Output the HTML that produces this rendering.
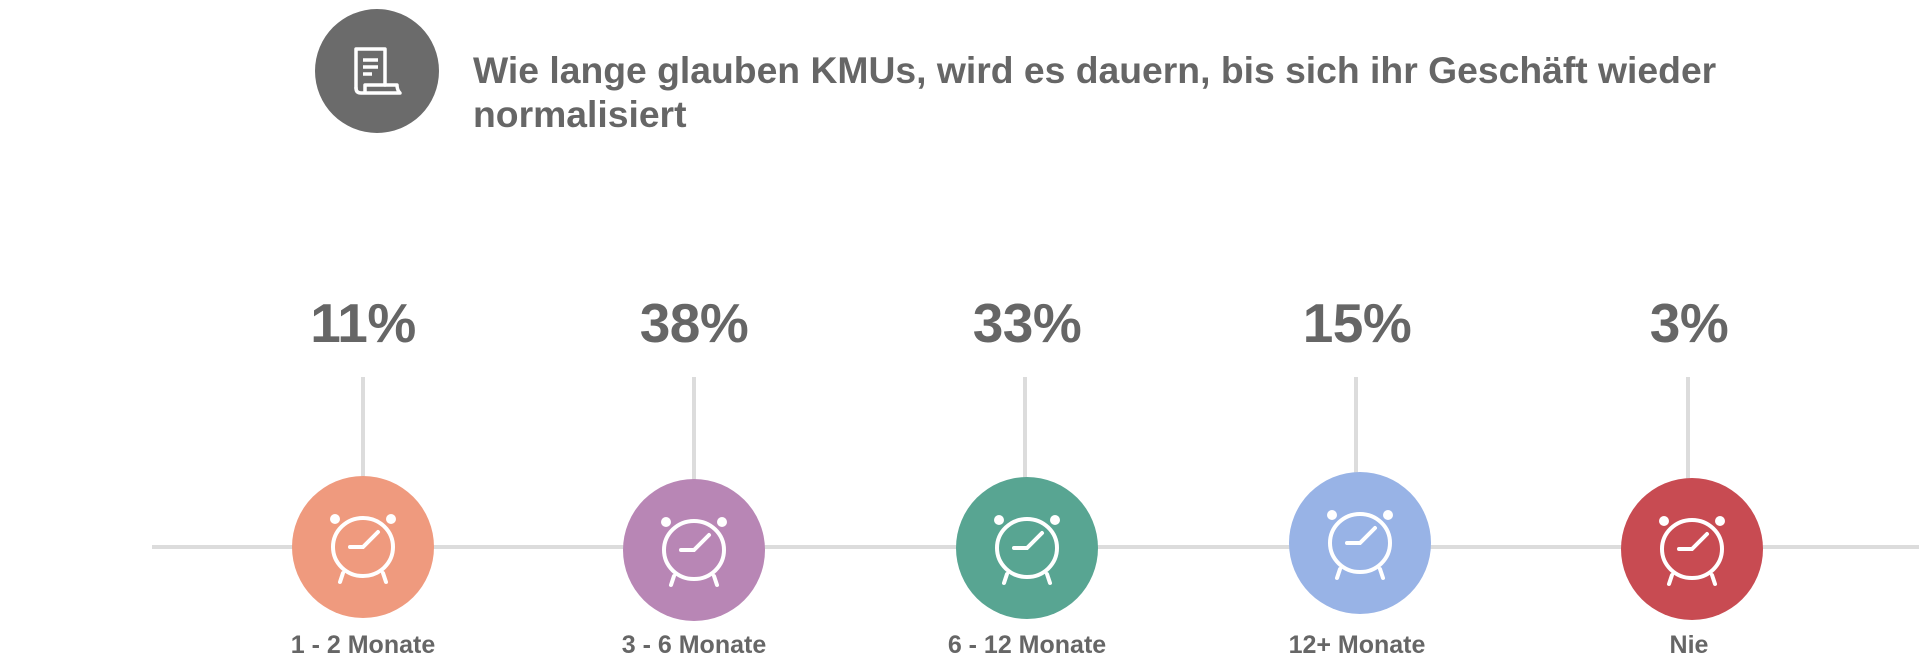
<!DOCTYPE html>
<html><head><meta charset="utf-8"><style>
html,body{margin:0;padding:0;background:#fff;}
body{width:1919px;height:672px;overflow:hidden;position:relative;font-family:"Liberation Sans",sans-serif;}
</style></head><body>
<svg width="1919" height="672" viewBox="0 0 1919 672" xmlns="http://www.w3.org/2000/svg" style="position:absolute;left:0;top:0">
<defs>
<g id="clk" fill="none" stroke="#fff" stroke-width="4" stroke-linecap="round">
<ellipse cx="0" cy="0" rx="30" ry="29"/>
<polyline points="-13,0 0,0 15,-15"/>
<line x1="-20" y1="26" x2="-23" y2="35"/>
<line x1="20" y1="26" x2="23" y2="35"/>
<circle cx="-28" cy="-28" r="5" fill="#fff" stroke="none"/>
<circle cx="28" cy="-28" r="5" fill="#fff" stroke="none"/>
</g>
</defs>
<line x1="152" y1="547" x2="1919" y2="547" stroke="#dcdcdc" stroke-width="4"/>
<g stroke="#dcdcdc" stroke-width="4">
<line x1="363" y1="377" x2="363" y2="480"/>
<line x1="694" y1="377" x2="694" y2="480"/>
<line x1="1025" y1="377" x2="1025" y2="480"/>
<line x1="1356" y1="377" x2="1356" y2="480"/>
<line x1="1688" y1="377" x2="1688" y2="480"/>
</g>
<circle cx="363" cy="547" r="71" fill="#EF9A7E"/><use href="#clk" x="363" y="547"/>
<circle cx="694" cy="550" r="71" fill="#B886B5"/><use href="#clk" x="694" y="550"/>
<circle cx="1027" cy="548" r="71" fill="#58A592"/><use href="#clk" x="1027" y="548"/>
<circle cx="1360" cy="543" r="71" fill="#98B3E6"/><use href="#clk" x="1360" y="543"/>
<circle cx="1692" cy="549" r="71" fill="#C84B52"/><use href="#clk" x="1692" y="549"/>
<g font-family="Liberation Sans, sans-serif" font-weight="bold" fill="#666" text-anchor="middle">
<g font-size="55" letter-spacing="-0.5">
<text x="363" y="342">11%</text>
<text x="694" y="342">38%</text>
<text x="1027" y="342">33%</text>
<text x="1357" y="342">15%</text>
<text x="1689" y="342">3%</text>
</g>
<g font-size="25">
<text x="363" y="653">1 - 2 Monate</text>
<text x="694" y="653">3 - 6 Monate</text>
<text x="1027" y="653">6 - 12 Monate</text>
<text x="1357" y="653">12+ Monate</text>
<text x="1689" y="653">Nie</text>
</g>
</g>
<circle cx="377" cy="71" r="62" fill="#6b6b6b"/>
<g fill="none" stroke="#fff" stroke-width="3.5" stroke-linejoin="round" stroke-linecap="round">
<path d="M356,88 V49 H385 V85"/>
<path d="M356,88 q0,5 5,5 h39 q-3,-3 -3,-8 h-32 v8"/>
</g>
<g stroke="#fff" stroke-width="3.5">
<line x1="363" y1="60" x2="378" y2="60"/>
<line x1="363" y1="67" x2="378" y2="67"/>
<line x1="363" y1="74" x2="372" y2="74"/>
</g>
<g font-family="Liberation Sans, sans-serif" font-weight="bold" fill="#666" font-size="37.3">
<text x="473" y="83">Wie lange glauben KMUs, wird es dauern, bis sich ihr Geschäft wieder</text>
<text x="473" y="127">normalisiert</text>
</g>
</svg>
</body></html>
